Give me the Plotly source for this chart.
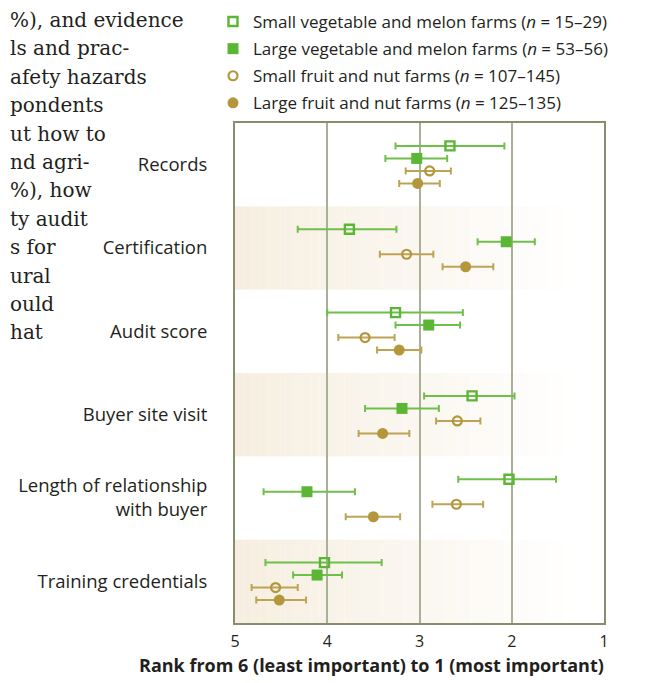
import plotly.graph_objects as go

# ---------------- data ----------------
categories = ["Records", "Certification", "Audit score", "Buyer site visit",
              "Length of relationship<br>with buyer", "Training credentials"]

series_names = [
    "Small vegetable and melon farms (<i>n</i> = 15–29)",
    "Large vegetable and melon farms (<i>n</i> = 53–56)",
    "Small fruit and nut farms (<i>n</i> = 107–145)",
    "Large fruit and nut farms (<i>n</i> = 125–135)",
]

small_veg_mean = [2.67, 3.76, 3.26, 2.43, 2.03, 4.03]
small_veg_hi   = [3.26, 4.32, 4.00, 2.95, 2.58, 4.67]
small_veg_lo   = [2.08, 3.25, 2.53, 1.97, 1.52, 3.41]

large_veg_mean = [3.03, 2.06, 2.90, 3.19, 4.22, 4.11]
large_veg_hi   = [3.37, 2.37, 3.26, 3.59, 4.69, 4.37]
large_veg_lo   = [2.70, 1.75, 2.56, 2.79, 3.70, 3.84]

small_fruit_mean = [2.89, 3.14, 3.59, 2.59, 2.60, 4.56]
small_fruit_hi   = [3.15, 3.43, 3.88, 2.82, 2.86, 4.82]
small_fruit_lo   = [2.66, 2.85, 3.27, 2.34, 2.31, 4.32]

large_fruit_mean = [3.02, 2.50, 3.22, 3.40, 3.50, 4.52]
large_fruit_hi   = [3.22, 2.75, 3.46, 3.66, 3.80, 4.77]
large_fruit_lo   = [2.78, 2.20, 2.98, 3.11, 3.21, 4.23]

x_ticks = [5, 4, 3, 2, 1]
x_title = "Rank from 6 (least important) to 1 (most important)"

body_lines = ["%), and evidence", "ls and prac-", "afety hazards", "pondents",
              "ut how to", "nd agri-", "%), how", "ty audit", "s for",
              "ural", "ould", "hat"]

# ---------------- styling ----------------
GREEN = "#5ab634"
GREEN_ERR = "#6fc04b"
GOLD = "#b3973a"
GOLD_ERR = "#bea355"
TXT = "#231f20"

OFF = 8  # page body margin
W, H = 662, 683
L, R, T, B = 235 - OFF, 604 - OFF, 123 - OFF, 623 - OFF


def px_x(p):
    p -= OFF
    return (p - L) / (R - L)


def px_y(p):
    p -= OFF
    return (B - p) / (B - T)


offsets = [-0.225, -0.075, 0.075, 0.225]
styles = [
    dict(symbol="square-open", size=9, color=GREEN, line=dict(width=2.4, color=GREEN)),
    dict(symbol="square", size=11, color=GREEN, line=dict(width=0, color=GREEN)),
    dict(symbol="circle-open", size=9, color=GOLD, line=dict(width=2.2, color=GOLD)),
    dict(symbol="circle", size=11, color=GOLD, line=dict(width=0, color=GOLD)),
]
err_colors = [GREEN_ERR, GREEN_ERR, GOLD_ERR, GOLD_ERR]
data = [
    (small_veg_mean, small_veg_hi, small_veg_lo),
    (large_veg_mean, large_veg_hi, large_veg_lo),
    (small_fruit_mean, small_fruit_hi, small_fruit_lo),
    (large_fruit_mean, large_fruit_hi, large_fruit_lo),
]

fig = go.Figure()

for k, (mean, hi, lo) in enumerate(data):
    ys = [i + offsets[k] for i in range(len(categories))]
    fig.add_trace(go.Scatter(
        x=mean, y=ys, mode="markers", name=series_names[k],
        legendgroup=str(k),
        marker=styles[k],
        error_x=dict(type="data", symmetric=False,
                     array=[h - m for h, m in zip(hi, mean)],
                     arrayminus=[m - l for m, l in zip(mean, lo)],
                     color=err_colors[k], thickness=2, width=3.5),
    ))

# gradient bands for alternate categories
shapes = []
n_strips = 40
x_start, x_end = 5.0, 1.35
c0 = (246, 238, 224)
for i in range(len(categories)):
    if i % 2 == 1:
        for s in range(n_strips):
            f = s / n_strips
            xa = x_start + (x_end - x_start) * f
            xb = x_start + (x_end - x_start) * (s + 1) / n_strips
            col = tuple(int(round(c + (255 - c) * f)) for c in c0)
            shapes.append(dict(type="rect", xref="x", yref="y", layer="below",
                               x0=xa, x1=xb, y0=i - 0.5, y1=i + 0.5,
                               fillcolor="rgb(%d,%d,%d)" % col,
                               line=dict(width=0)))

annotations = []
for j, line in enumerate(body_lines):
    annotations.append(dict(text=line, xref="paper", yref="paper",
                            x=px_x(OFF), y=px_y(20 + 28.4 * j), xanchor="left",
                            yanchor="middle", showarrow=False,
                            font=dict(family="DejaVu Serif", size=20, color=TXT)))

annotations.append(dict(text="<b>" + x_title + "</b>", xref="paper", yref="paper",
                        x=px_x(606), y=px_y(665), xanchor="right", yanchor="middle",
                        showarrow=False,
                        font=dict(family="Open Sans", size=18, color=TXT)))

fig.update_layout(
    width=W, height=H,
    margin=dict(l=L, r=W - R, t=T, b=H - B, autoexpand=False),
    paper_bgcolor="white", plot_bgcolor="white",
    showlegend=True,
    legend=dict(x=px_x(213), y=px_y(4), xanchor="left", yanchor="top",
                traceorder="grouped", tracegroupgap=2,
                font=dict(family="Open Sans", size=17, color=TXT),
                bgcolor="rgba(0,0,0,0)"),
    shapes=shapes,
    annotations=annotations,
    font=dict(family="Open Sans", color=TXT),
)

fig.update_xaxes(range=[5, 1], tickvals=x_ticks, ticktext=[str(v) for v in x_ticks],
                 showgrid=True, gridcolor="#a9b097", gridwidth=1.5,
                 showline=True, linecolor="#858f6c", linewidth=2, mirror=True,
                 ticks="", ticklabelstandoff=3, zeroline=False, automargin=False,
                 tickfont=dict(family="Open Sans", size=16, color=TXT))
fig.update_yaxes(range=[5.5, -0.5], tickvals=list(range(len(categories))),
                 ticktext=categories, showgrid=False, zeroline=False,
                 showline=True, linecolor="#858f6c", linewidth=2, mirror=True,
                 ticks="", ticklabelstandoff=22, automargin=False,
                 tickfont=dict(family="Open Sans", size=18.5, color=TXT))

fig.write_html("out.html")
